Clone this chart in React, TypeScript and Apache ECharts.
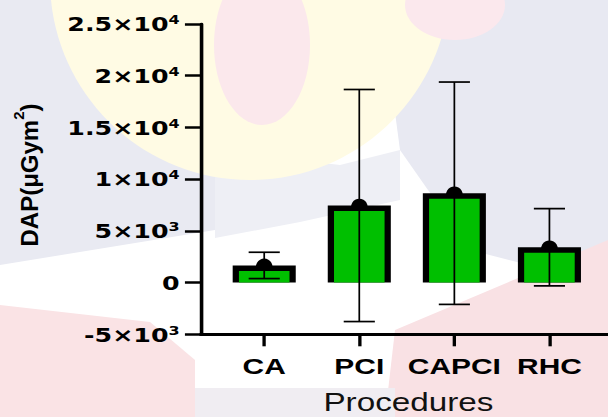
import React, { useEffect, useRef } from "react";
import * as echarts from "echarts";

// ---- data ----
const categories = ["CA", "PCI", "CAPCI", "RHC"];
const means = [1660, 7450, 8640, 3414];
const sds = [1272, 11218, 10749, 3738];
const yTicks = [-5000, 0, 5000, 10000, 15000, 20000, 25000];
const yTickBase = ["-5×10", "0", "5×10", "1×10", "1.5×10", "2×10", "2.5×10"];
const yTickExp = ["3", "", "3", "4", "4", "4", "4"];
const xTitle = "Procedures";
const yTitleBase = "DAP(μGym";
const yTitleSup = "2";
const yTitleEnd = ")";

// ---- layout (chart is drawn narrow and stretched horizontally, like the reference) ----
const CHART_W = 457;
const CHART_H = 417;
const S = 608 / CHART_W;
const X_MIN = -0.666;
const X_MAX = 3.616;
const BAR_W = 47.4;
const BAR_SIDE = 4.7;
const BAR_TOP = 5.5;
const CAP_HALF = 11.7;
const GREEN = "#00BF00";

const TITLE_FONT = 24;
const TITLE_SUP_FONT = 15;

function measure(text: string, size: number) {
  const c = document.createElement("canvas").getContext("2d");
  if (!c) return text.length * size * 0.6;
  c.font = `bold ${size}px "Liberation Sans"`;
  return c.measureText(text).width;
}

// faint background watermark (page pixels)
function poly(points: number[][], fill: string, z = -10) {
  return {
    type: "polygon",
    z,
    silent: true,
    shape: { points: points.map(([x, y]) => [x / S, y]) },
    style: { fill },
  };
}
function ell(cx: number, cy: number, rx: number, ry: number, fill: string, z = -9) {
  return {
    type: "ellipse",
    z,
    silent: true,
    shape: { cx: cx / S, cy, rx: rx / S, ry },
    style: { fill },
  };
}

export default function App() {
  const ref = useRef<HTMLDivElement>(null);
  useEffect(() => {
    if (!ref.current) return;
    const chart = echarts.init(ref.current, undefined, { renderer: "svg" });
    const data = categories.map((c, i) => [i, means[i], sds[i]]);

    const wBase = measure(yTitleBase, TITLE_FONT);
    const wSup = measure(yTitleSup, TITLE_SUP_FONT);
    const wEnd = measure(yTitleEnd, TITLE_FONT);
    const total = wBase + wSup + wEnd;
    const x0 = -total / 2;
    const baseStyle = {
      fontFamily: "Liberation Sans",
      fontWeight: "bold",
      fontSize: TITLE_FONT,
      fill: "#000",
      align: "left",
      verticalAlign: "middle",
    };

    const watermark = [
      poly([[0, 0], [60, 0], [110, 120], [215, 150], [215, 230], [0, 265]], "#E9EAF2"),
      poly([[380, 0], [608, 0], [608, 285], [470, 250], [400, 150]], "#E8E9F2"),
      poly([[215, 150], [340, 165], [400, 150], [400, 200], [300, 222], [215, 238]], "#EEEFF5", -9.5),
      poly([[0, 305], [150, 322], [195, 360], [195, 417], [0, 417]], "#FAE3E5"),
      poly([[395, 330], [608, 240], [608, 417], [385, 417]], "#F9E1E4"),
      poly([[195, 388], [395, 388], [395, 417], [195, 417]], "#F0EDF2"),
      ell(250, -20, 200, 200, "#FFFBE4"),
      ell(262, 45, 48, 80, "#FBE8EC"),
      ell(455, 5, 50, 35, "#FBE8ED"),
    ];

    const option: any = {
      animation: false,
      backgroundColor: "#ffffff",
      grid: { left: 151, right: 0, top: 24, bottom: 82.7, outerBoundsMode: "none", containLabel: false },
      xAxis: {
        type: "value",
        min: X_MIN,
        max: X_MAX,
        splitLine: { show: false },
        axisLine: { show: true, onZero: false, lineStyle: { color: "#000", width: 3 } },
        axisTick: { show: true, customValues: [0, 1, 2, 3], length: 12, lineStyle: { color: "#000", width: 2.5 } },
        axisLabel: {
          customValues: [0, 1, 2, 3],
          formatter: (v: number) => categories[Math.round(v)] ?? "",
          margin: 20.8,
          color: "#000",
          fontFamily: "Liberation Sans",
          fontWeight: "bold",
          fontSize: 22.5,
        },
        name: xTitle,
        nameLocation: "middle",
        nameGap: 55,
        nameTextStyle: {
          color: "#111",
          fontFamily: "Liberation Sans",
          fontSize: 25,
          padding: [0, 0, 0, 6],
        },
      },
      yAxis: {
        type: "value",
        min: -5000,
        max: 25000,
        interval: 5000,
        splitLine: { show: false },
        axisLine: { show: true, onZero: false, lineStyle: { color: "#000", width: 2.7 } },
        axisTick: { show: true, length: 12, lineStyle: { color: "#000", width: 2.5 } },
        axisLabel: {
          margin: 16,
          formatter: (v: number) => {
            const i = yTicks.indexOf(v);
            if (i < 0) return "";
            return yTickExp[i] ? `{b|${yTickBase[i]}}{s|${yTickExp[i]}}` : `{b|${yTickBase[i]}}`;
          },
          rich: {
            b: {
              fontFamily: "DejaVu Sans",
              fontWeight: "bold",
              fontSize: 19,
              lineHeight: 20,
              color: "#000",
              verticalAlign: "bottom",
            },
            s: {
              fontFamily: "DejaVu Sans",
              fontWeight: "bold",
              fontSize: 12,
              lineHeight: 17,
              color: "#000",
              verticalAlign: "top",
            },
          },
        },
      },
      graphic: [
        ...watermark,
        {
          type: "group",
          x: 21.8,
          y: 175,
          rotation: Math.PI / 2,
          scaleY: 1 / S,
          children: [
            { type: "text", x: x0, y: 0, style: { ...baseStyle, text: yTitleBase } },
            {
              type: "text",
              x: x0 + wBase,
              y: -10.5,
              style: { ...baseStyle, fontSize: TITLE_SUP_FONT, text: yTitleSup },
            },
            { type: "text", x: x0 + wBase + wSup, y: 0, style: { ...baseStyle, text: yTitleEnd } },
          ],
        },
      ],
      series: [
        {
          type: "custom",
          data,
          encode: { x: 0, y: 1 },
          clip: false,
          renderItem: (params: any, api: any) => {
            const x = api.value(0);
            const m = api.value(1);
            const sd = api.value(2);
            const p = api.coord([x, m]);
            const p0 = api.coord([x, 0]);
            const hi = api.coord([x, m + sd]);
            const lo = api.coord([x, m - sd]);
            const cx = p[0];
            return {
              type: "group",
              children: [
                {
                  type: "rect",
                  shape: { x: cx - BAR_W / 2, y: p[1], width: BAR_W, height: p0[1] - p[1] },
                  style: { fill: "#000" },
                },
                {
                  type: "circle",
                  x: cx,
                  y: p[1] + 1.5,
                  scaleX: 1 / S,
                  shape: { cx: 0, cy: 0, r: 8.3 },
                  style: { fill: "#000" },
                },
                {
                  type: "rect",
                  shape: {
                    x: cx - BAR_W / 2 + BAR_SIDE,
                    y: p[1] + BAR_TOP,
                    width: BAR_W - 2 * BAR_SIDE,
                    height: p0[1] - p[1] - BAR_TOP,
                  },
                  style: { fill: GREEN },
                },
                {
                  type: "line",
                  shape: { x1: cx, y1: lo[1], x2: cx, y2: hi[1] },
                  style: { stroke: "#000", lineWidth: 1.3 },
                },
                {
                  type: "line",
                  shape: { x1: cx - CAP_HALF, y1: hi[1], x2: cx + CAP_HALF, y2: hi[1] },
                  style: { stroke: "#000", lineWidth: 1.7 },
                },
                {
                  type: "line",
                  shape: { x1: cx - CAP_HALF, y1: lo[1], x2: cx + CAP_HALF, y2: lo[1] },
                  style: { stroke: "#000", lineWidth: 1.7 },
                },
              ],
            };
          },
        },
      ],
    };
    chart.setOption(option);
    return () => chart.dispose();
  }, []);
  return (
    <div
      ref={ref}
      style={{
        position: "absolute",
        left: 0,
        top: 0,
        width: CHART_W,
        height: CHART_H,
        transform: `scaleX(${S})`,
        transformOrigin: "0 0",
      }}
    />
  );
}
